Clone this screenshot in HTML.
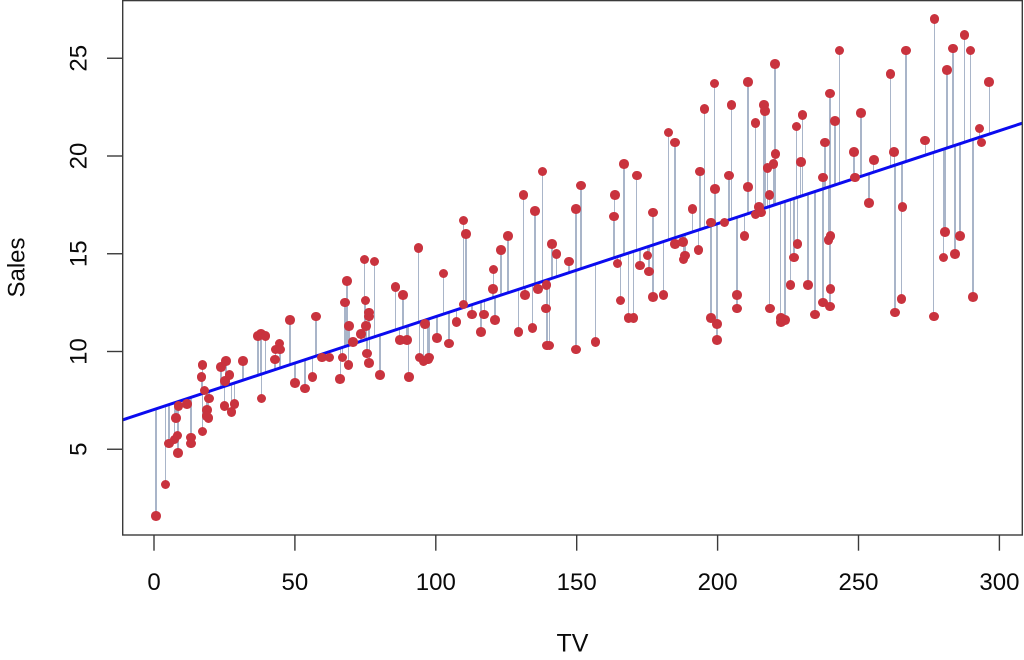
<!DOCTYPE html>
<html><head><meta charset="utf-8">
<style>
html,body{margin:0;padding:0}
body{width:1024px;height:660px;background:#fff;position:relative;overflow:hidden;font-family:"Liberation Sans",Arial,sans-serif}
#pts i{position:absolute;left:calc(154px + var(--t) * 2.818px);top:0;width:0;height:0;--f:calc(7.0326 + 0.047537 * var(--t))}
#pts i::before{content:"";position:absolute;z-index:1;left:-0.75px;width:1.5px;background:#a9b5c9;top:calc(547px - 19.55px * max(var(--s), var(--f)));height:calc(19.55px * max(var(--s) - var(--f), var(--f) - var(--s)))}
#pts i::after{content:"";position:absolute;z-index:3;width:9.6px;height:9.6px;border-radius:50%;background:#c9333e;left:-4.8px;top:calc(547px - 19.55px * var(--s) - 4.8px)}
svg{position:absolute;left:0;top:0;z-index:2}
</style></head><body>
<div id="pts">
<i style="--t:230.1;--s:22.1"></i><i style="--t:44.5;--s:10.4"></i><i style="--t:17.2;--s:9.3"></i><i style="--t:151.5;--s:18.5"></i><i style="--t:180.8;--s:12.9"></i>
<i style="--t:8.7;--s:7.2"></i><i style="--t:57.5;--s:11.8"></i><i style="--t:120.2;--s:13.2"></i><i style="--t:8.6;--s:4.8"></i><i style="--t:199.8;--s:10.6"></i>
<i style="--t:66.1;--s:8.6"></i><i style="--t:214.7;--s:17.4"></i><i style="--t:23.8;--s:9.2"></i><i style="--t:97.5;--s:9.7"></i><i style="--t:204.1;--s:19"></i>
<i style="--t:195.4;--s:22.4"></i><i style="--t:67.8;--s:12.5"></i><i style="--t:281.4;--s:24.4"></i><i style="--t:69.2;--s:11.3"></i><i style="--t:147.3;--s:14.6"></i>
<i style="--t:218.4;--s:18"></i><i style="--t:237.4;--s:12.5"></i><i style="--t:13.2;--s:5.6"></i><i style="--t:228.3;--s:15.5"></i><i style="--t:62.3;--s:9.7"></i>
<i style="--t:262.9;--s:12"></i><i style="--t:142.9;--s:15"></i><i style="--t:240.1;--s:15.9"></i><i style="--t:248.8;--s:18.9"></i><i style="--t:70.6;--s:10.5"></i>
<i style="--t:292.9;--s:21.4"></i><i style="--t:112.9;--s:11.9"></i><i style="--t:97.2;--s:9.6"></i><i style="--t:265.6;--s:17.4"></i><i style="--t:95.7;--s:9.5"></i>
<i style="--t:290.7;--s:12.8"></i><i style="--t:266.9;--s:25.4"></i><i style="--t:74.7;--s:14.7"></i><i style="--t:43.1;--s:10.1"></i><i style="--t:228;--s:21.5"></i>
<i style="--t:202.5;--s:16.6"></i><i style="--t:177;--s:17.1"></i><i style="--t:293.6;--s:20.7"></i><i style="--t:206.9;--s:12.9"></i><i style="--t:25.1;--s:8.5"></i>
<i style="--t:175.1;--s:14.9"></i><i style="--t:89.7;--s:10.6"></i><i style="--t:239.9;--s:23.2"></i><i style="--t:227.2;--s:14.8"></i><i style="--t:66.9;--s:9.7"></i>
<i style="--t:199.8;--s:11.4"></i><i style="--t:100.4;--s:10.7"></i><i style="--t:216.4;--s:22.6"></i><i style="--t:182.6;--s:21.2"></i><i style="--t:262.7;--s:20.2"></i>
<i style="--t:198.9;--s:23.7"></i><i style="--t:7.3;--s:5.5"></i><i style="--t:136.2;--s:13.2"></i><i style="--t:210.8;--s:23.8"></i><i style="--t:210.7;--s:18.4"></i>
<i style="--t:53.5;--s:8.1"></i><i style="--t:261.3;--s:24.2"></i><i style="--t:239.3;--s:15.7"></i><i style="--t:102.7;--s:14"></i><i style="--t:131.1;--s:18"></i>
<i style="--t:69;--s:9.3"></i><i style="--t:31.5;--s:9.5"></i><i style="--t:139.3;--s:13.4"></i><i style="--t:237.4;--s:18.9"></i><i style="--t:216.8;--s:22.3"></i>
<i style="--t:199.1;--s:18.3"></i><i style="--t:109.8;--s:12.4"></i><i style="--t:26.8;--s:8.8"></i><i style="--t:129.4;--s:11"></i><i style="--t:213.4;--s:17"></i>
<i style="--t:16.9;--s:8.7"></i><i style="--t:27.5;--s:6.9"></i><i style="--t:120.5;--s:14.2"></i><i style="--t:5.4;--s:5.3"></i><i style="--t:116;--s:11"></i>
<i style="--t:76.4;--s:11.8"></i><i style="--t:239.8;--s:12.3"></i><i style="--t:75.3;--s:11.3"></i><i style="--t:68.4;--s:13.6"></i><i style="--t:213.5;--s:21.7"></i>
<i style="--t:193.2;--s:15.2"></i><i style="--t:76.3;--s:12"></i><i style="--t:110.7;--s:16"></i><i style="--t:88.3;--s:12.9"></i><i style="--t:109.8;--s:16.7"></i>
<i style="--t:134.3;--s:11.2"></i><i style="--t:28.6;--s:7.3"></i><i style="--t:217.7;--s:19.4"></i><i style="--t:250.9;--s:22.2"></i><i style="--t:107.4;--s:11.5"></i>
<i style="--t:163.3;--s:16.9"></i><i style="--t:197.6;--s:11.7"></i><i style="--t:184.9;--s:15.5"></i><i style="--t:289.7;--s:25.4"></i><i style="--t:135.2;--s:17.2"></i>
<i style="--t:222.4;--s:11.7"></i><i style="--t:296.4;--s:23.8"></i><i style="--t:280.2;--s:14.8"></i><i style="--t:187.9;--s:14.7"></i><i style="--t:238.2;--s:20.7"></i>
<i style="--t:137.9;--s:19.2"></i><i style="--t:25;--s:7.2"></i><i style="--t:90.4;--s:8.7"></i><i style="--t:13.1;--s:5.3"></i><i style="--t:255.4;--s:19.8"></i>
<i style="--t:225.8;--s:13.4"></i><i style="--t:241.7;--s:21.8"></i><i style="--t:175.7;--s:14.1"></i><i style="--t:209.6;--s:15.9"></i><i style="--t:78.2;--s:14.6"></i>
<i style="--t:75.1;--s:12.6"></i><i style="--t:139.2;--s:12.2"></i><i style="--t:76.4;--s:9.4"></i><i style="--t:125.7;--s:15.9"></i><i style="--t:19.4;--s:6.6"></i>
<i style="--t:141.3;--s:15.5"></i><i style="--t:18.8;--s:7"></i><i style="--t:224;--s:11.6"></i><i style="--t:123.1;--s:15.2"></i><i style="--t:229.5;--s:19.7"></i>
<i style="--t:87.2;--s:10.6"></i><i style="--t:7.8;--s:6.6"></i><i style="--t:80.2;--s:8.8"></i><i style="--t:220.3;--s:24.7"></i><i style="--t:59.6;--s:9.7"></i>
<i style="--t:0.7;--s:1.6"></i><i style="--t:265.2;--s:12.7"></i><i style="--t:8.4;--s:5.7"></i><i style="--t:219.8;--s:19.6"></i><i style="--t:36.9;--s:10.8"></i>
<i style="--t:48.3;--s:11.6"></i><i style="--t:25.6;--s:9.5"></i><i style="--t:273.7;--s:20.8"></i><i style="--t:43;--s:9.6"></i><i style="--t:184.9;--s:20.7"></i>
<i style="--t:73.4;--s:10.9"></i><i style="--t:193.7;--s:19.2"></i><i style="--t:220.5;--s:20.1"></i><i style="--t:104.6;--s:10.4"></i><i style="--t:96.2;--s:11.4"></i>
<i style="--t:140.3;--s:10.3"></i><i style="--t:240.1;--s:13.2"></i><i style="--t:243.2;--s:25.4"></i><i style="--t:38;--s:10.9"></i><i style="--t:44.7;--s:10.1"></i>
<i style="--t:280.7;--s:16.1"></i><i style="--t:121;--s:11.6"></i><i style="--t:197.6;--s:16.6"></i><i style="--t:171.3;--s:19"></i><i style="--t:187.8;--s:15.6"></i>
<i style="--t:4.1;--s:3.2"></i><i style="--t:93.9;--s:15.3"></i><i style="--t:149.8;--s:10.1"></i><i style="--t:11.7;--s:7.3"></i><i style="--t:131.7;--s:12.9"></i>
<i style="--t:172.5;--s:14.4"></i><i style="--t:85.7;--s:13.3"></i><i style="--t:188.4;--s:14.9"></i><i style="--t:163.5;--s:18"></i><i style="--t:117.2;--s:11.9"></i>
<i style="--t:234.5;--s:11.9"></i><i style="--t:17.9;--s:8"></i><i style="--t:206.8;--s:12.2"></i><i style="--t:215.4;--s:17.1"></i><i style="--t:284.3;--s:15"></i>
<i style="--t:50;--s:8.4"></i><i style="--t:164.5;--s:14.5"></i><i style="--t:19.6;--s:7.6"></i><i style="--t:168.4;--s:11.7"></i><i style="--t:222.4;--s:11.5"></i>
<i style="--t:276.9;--s:27"></i><i style="--t:248.4;--s:20.2"></i><i style="--t:170.2;--s:11.7"></i><i style="--t:276.7;--s:11.8"></i><i style="--t:165.6;--s:12.6"></i>
<i style="--t:156.6;--s:10.5"></i><i style="--t:218.5;--s:12.2"></i><i style="--t:56.2;--s:8.7"></i><i style="--t:287.6;--s:26.2"></i><i style="--t:253.8;--s:17.6"></i>
<i style="--t:205;--s:22.6"></i><i style="--t:139.5;--s:10.3"></i><i style="--t:191.1;--s:17.3"></i><i style="--t:286;--s:15.9"></i><i style="--t:18.7;--s:6.7"></i>
<i style="--t:39.5;--s:10.8"></i><i style="--t:75.5;--s:9.9"></i><i style="--t:17.2;--s:5.9"></i><i style="--t:166.8;--s:19.6"></i><i style="--t:149.7;--s:17.3"></i>
<i style="--t:38.2;--s:7.6"></i><i style="--t:94.2;--s:9.7"></i><i style="--t:177;--s:12.8"></i><i style="--t:283.6;--s:25.5"></i><i style="--t:232.1;--s:13.4"></i>
</div>
<svg width="1024" height="660" viewBox="0 0 1024 660" xmlns="http://www.w3.org/2000/svg">
<line x1="122.6" y1="419.9" x2="1022.3" y2="123.15" stroke="#0b0bef" stroke-width="3"/>
<rect x="122.7" y="0.6" width="899.6" height="534.4" fill="none" stroke="#3a3a3a" stroke-width="1.4"/>
<g stroke="#3a3a3a" stroke-width="1.4">
<line x1="154" y1="535" x2="154" y2="550.7"/>
<line x1="294.9" y1="535" x2="294.9" y2="550.7"/>
<line x1="435.8" y1="535" x2="435.8" y2="550.7"/>
<line x1="576.7" y1="535" x2="576.7" y2="550.7"/>
<line x1="717.6" y1="535" x2="717.6" y2="550.7"/>
<line x1="858.5" y1="535" x2="858.5" y2="550.7"/>
<line x1="999.4" y1="535" x2="999.4" y2="550.7"/>
<line x1="107" y1="449.25" x2="122.7" y2="449.25"/>
<line x1="107" y1="351.5" x2="122.7" y2="351.5"/>
<line x1="107" y1="253.75" x2="122.7" y2="253.75"/>
<line x1="107" y1="156" x2="122.7" y2="156"/>
<line x1="107" y1="58.25" x2="122.7" y2="58.25"/>
</g>
<g font-family="Liberation Sans, Arial, sans-serif" font-size="24" fill="#0a0a0a" text-anchor="middle">
<text x="154" y="590">0</text>
<text x="294.9" y="590">50</text>
<text x="435.8" y="590">100</text>
<text x="576.7" y="590">150</text>
<text x="717.6" y="590">200</text>
<text x="858.5" y="590">250</text>
<text x="999.4" y="590">300</text>
<text transform="translate(86.5,449.25) rotate(-90)">5</text>
<text transform="translate(86.5,351.5) rotate(-90)">10</text>
<text transform="translate(86.5,253.75) rotate(-90)">15</text>
<text transform="translate(86.5,156) rotate(-90)">20</text>
<text transform="translate(86.5,58.25) rotate(-90)">25</text>
<text x="572.5" y="651.5" font-size="25">TV</text>
<text transform="translate(24.5,267.5) rotate(-90)">Sales</text>
</g>
</svg>
</body></html>
